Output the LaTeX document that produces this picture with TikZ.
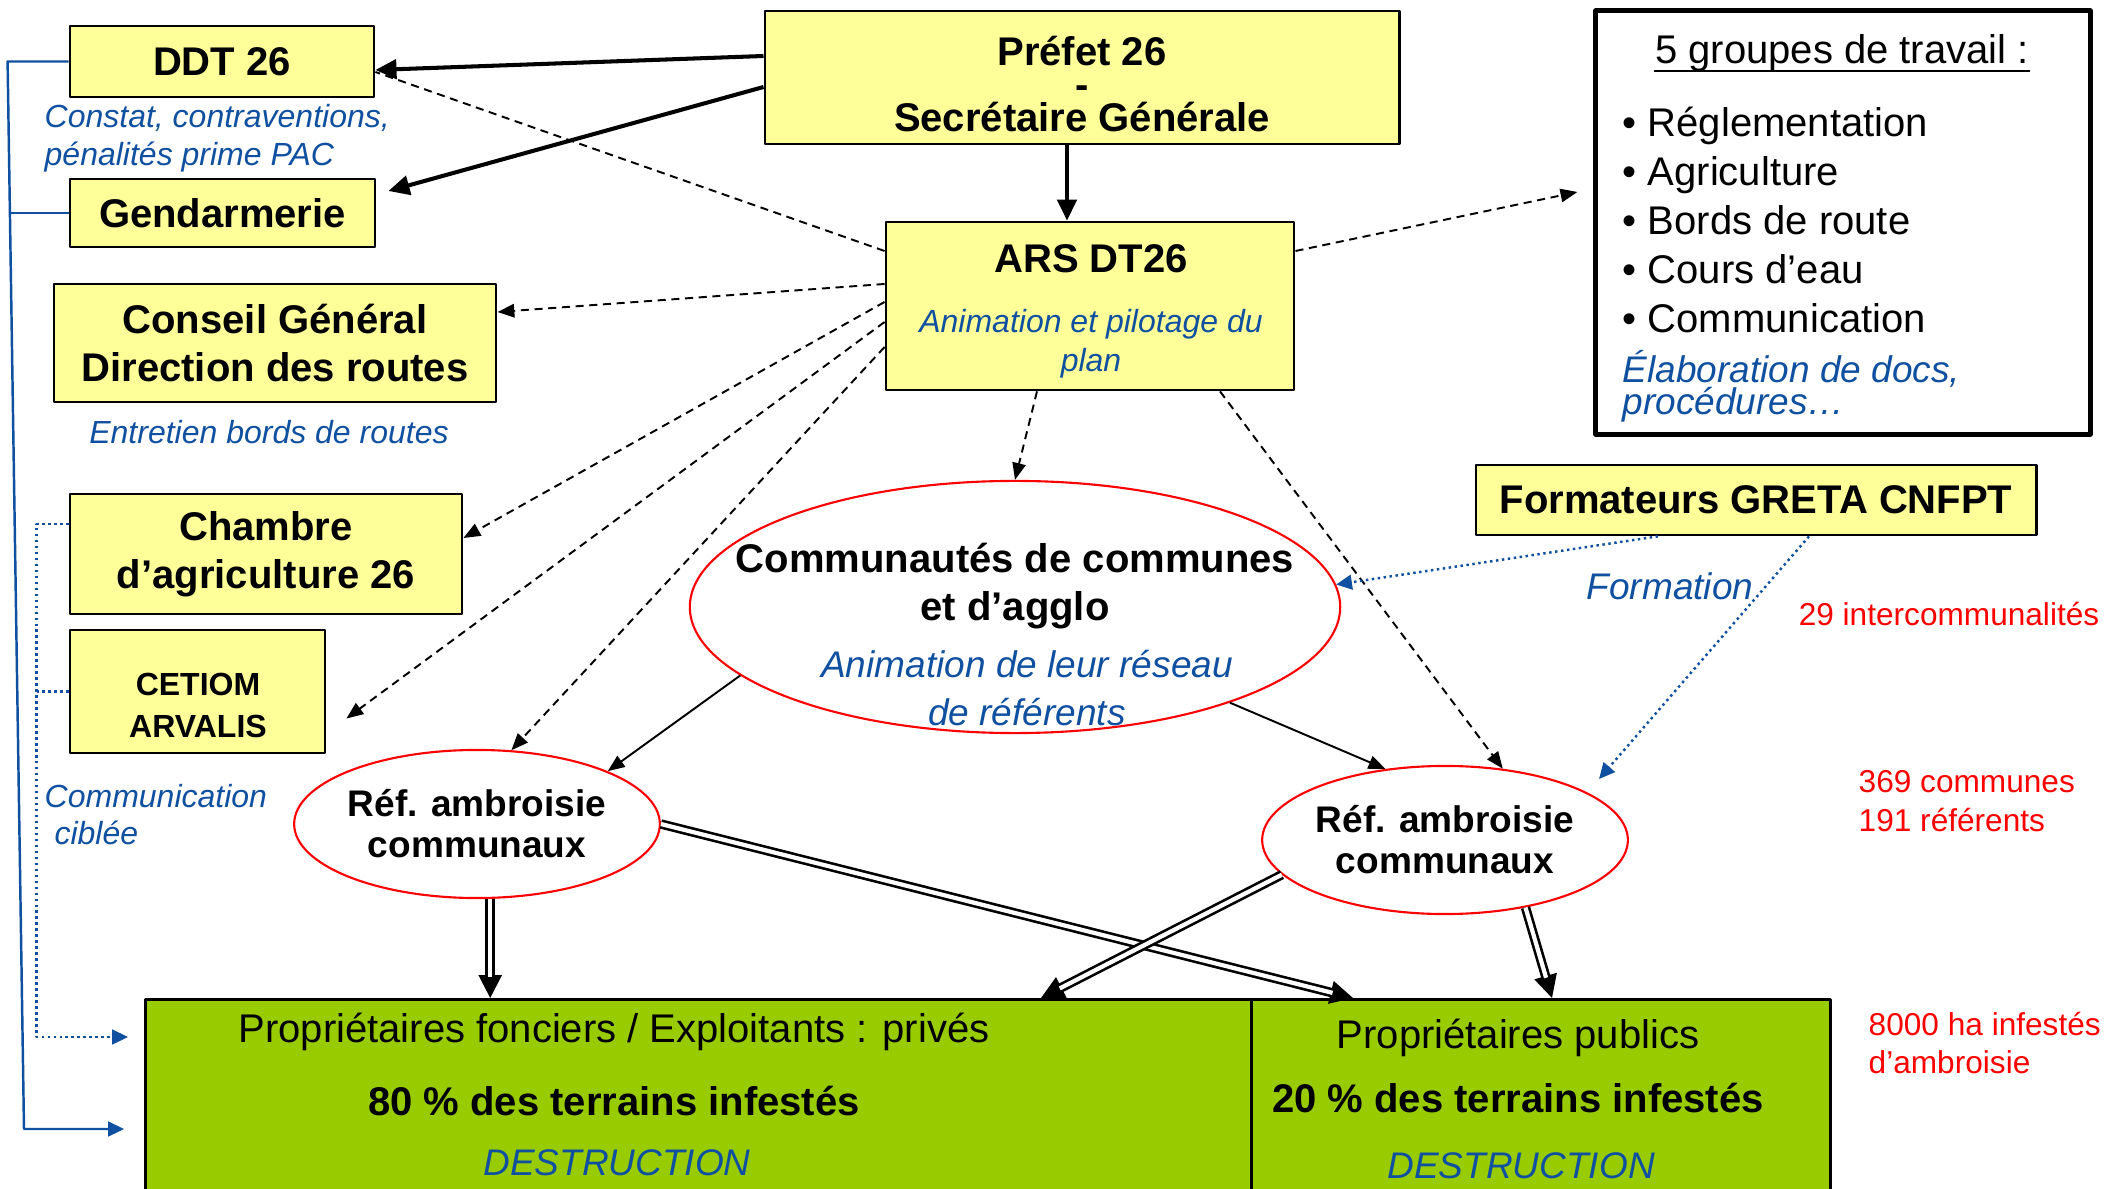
\documentclass[tikz,border=0pt]{standalone}
\usepackage{fontspec}
\setmainfont{Liberation Sans}
\usetikzlibrary{arrows.meta,shapes.geometric,calc}
\definecolor{jaune}{HTML}{FFFF99}
\definecolor{vert}{HTML}{99CC00}
\definecolor{bleu}{HTML}{1050A0}
\newcommand\fs[2]{\fontsize{#1}{#2}\selectfont\lineskiplimit=-20pt\relax}
\begin{document}
\begin{tikzpicture}[x=0.01cm,y=-0.01cm,line join=round,
    boite/.style={draw,fill=jaune,line width=0.75pt,inner sep=0pt,align=center,font=\fs{11.38}{13.5}\bfseries},
    bulle/.style={ellipse,draw=red,line width=0.6pt,inner sep=0pt,align=center,font=\fs{10.53}{11.7}\bfseries},
    titre/.style={inner sep=0pt,align=center,font=\fs{11.38}{13.7}\bfseries},
    note/.style={inner sep=0pt,align=left,text=bleu,font=\fs{9.1}{10.8}\itshape},
    gnote/.style={inner sep=0pt,align=center,text=bleu,font=\fs{10.53}{13.7}\itshape},
    chiffre/.style={inner sep=0pt,align=left,text=red,font=\fs{8.99}{11.1}},
    fort/.style={line width=1.15pt,-{Triangle[length=6pt,width=5.5pt]}},
    tiret/.style={line width=0.55pt,dash pattern=on 2.3pt off 1.6pt,-{Triangle[length=4.8pt,width=3.8pt]}},
    fin/.style={line width=0.55pt,-{Triangle[length=4.8pt,width=3.8pt]}},
    bleupt/.style={draw=bleu,line width=0.7pt,dash pattern=on 0.7pt off 1pt,-{Triangle[length=4.5pt,width=4.2pt]}},
    bleutrait/.style={draw=bleu,line width=0.7pt,-{Triangle[length=4.5pt,width=4.2pt]}},
    dbl/.style={line width=0.75pt,-{Triangle[length=6.5pt,width=6.5pt]},
      postaction={draw,-,double=white,double distance=1.2pt,shorten >=6pt}}]
    \useasboundingbox (0,0) rectangle (2107,1189);
    \clip (0,0) rectangle (2107,1189);
    % boites
    \node[boite,minimum width=3.04cm,minimum height=0.71cm] (ddt) at (222,61.5) {DDT 26};
    \node[boite,minimum width=3.05cm,minimum height=0.68cm] (gend) at (222.5,213) {Gendarmerie};
    \node[boite,minimum width=6.34cm,minimum height=1.33cm] (prefet) at (1082,77.5) {};
    \node[boite,minimum width=4.08cm,minimum height=1.68cm] (ars) at (1090,306) {};
    \node[boite,minimum width=4.42cm,minimum height=1.18cm] (cg) at (275,343) {Conseil Général\\Direction des routes};
    \node[boite,minimum width=3.92cm,minimum height=1.2cm,font=\fs{11.38}{13.7}\bfseries] (chambre) at (266,554) {Chambre\\d’agriculture 26};
    \node[boite,minimum width=2.55cm,minimum height=1.23cm] (cetiom) at (197.5,691.5) {};
    \node[boite,minimum width=5.6cm,minimum height=0.7cm] (greta) at (1756,500) {Formateurs GRETA CNFPT};
    \node[draw,line width=1.4pt,inner sep=0pt,minimum width=4.94cm,minimum height=4.23cm] (groupes) at (1843,222.5) {};
    \node[draw,fill=vert,line width=0.75pt,inner sep=0pt,minimum width=11.06cm,minimum height=2.2cm,anchor=north west] (privL) at (144,998) {};
    \node[draw,fill=vert,line width=0.75pt,inner sep=0pt,minimum width=5.79cm,minimum height=2.2cm,anchor=north west] (privR) at (1250,998) {};
    % bulles
    \node[bulle,minimum width=6.5cm,minimum height=2.52cm] (comm) at (1015,607) {};
    \node[bulle,minimum width=3.62cm,minimum height=1.48cm] (refL) at (477,824) {Réf. ambroisie\\communaux};
    \node[bulle,minimum width=3.62cm,minimum height=1.48cm] (refR) at (1445,840) {Réf. ambroisie\\communaux};
    % textes
    \node[titre,font=\fs{11.38}{9.4}\bfseries] (prefetT) at (1082,84) {Préfet 26\\-\\Secrétaire Générale};
    \node[titre,anchor=base] (arsT) at (1091,273) {ARS DT26};
    \node[note,align=center,font=\fs{9.1}{11.1}\itshape] (arsN) at (1091,343.5) {Animation et pilotage du\\plan};
    \node[titre] (commT) at (1015,586) {Communautés de communes\\et d’agglo};
    \node[gnote] (commN) at (1027,688) {Animation de leur réseau\\de référents};
    \node[note,anchor=west] (ddtN) at (44,138) {Constat, contraventions,\\pénalités prime PAC};
    \node[note,anchor=base] (cgN) at (269,444) {Entretien bords de routes};
    \node[titre,font=\fs{9.1}{12.2}\bfseries] (cetiomT) at (198,705.5) {CETIOM\\ARVALIS};
    \node[note,anchor=west,font=\fs{9.1}{10.5}\itshape] (comN) at (44,815) {Communication\\\hspace*{2.8pt}ciblée};
    \node[inner sep=0pt,anchor=base,font=\fs{11.38}{13}] (gtT) at (1842,64) {5 groupes de travail :};
    \draw[line width=0.55pt] ([yshift=-2pt]gtT.base west) -- ([yshift=-2pt]gtT.base east);
    \node[inner sep=0pt,align=left,anchor=west,font=\fs{11.38}{13.9}] (gtL) at (1622,220) {• Réglementation\\• Agriculture\\• Bords de route\\• Cours d’eau\\• Communication};
    \node[gnote,align=left,anchor=west,font=\fs{10.53}{9.1}\itshape] (gtN) at (1622,386.5) {Élaboration de docs,\\procédures…};
    \node[gnote,anchor=base] (formN) at (1670,600) {Formation};
    \node[chiffre,anchor=base] (nb1) at (1949,626) {29 intercommunalités};
    \node[chiffre,anchor=west] (nb2) at (1858,801) {369 communes\\191 référents};
    \node[chiffre,anchor=west,font=\fs{8.99}{10.8}] (nb3) at (1868,1043) {8000 ha infestés\\d’ambroisie};
    \node[inner sep=0pt,anchor=base,font=\fs{11.38}{13}] (pL1) at (614,1042) {Propriétaires fonciers / Exploitants : privés};
    \node[titre,anchor=base] (pL2) at (614,1115) {80 \% des terrains infestés};
    \node[gnote,anchor=base] (pL3) at (617,1175) {DESTRUCTION};
    \node[inner sep=0pt,anchor=base,font=\fs{11.38}{13}] (pR1) at (1518,1048) {Propriétaires publics};
    \node[titre,anchor=base] (pR2) at (1518,1112) {20 \% des terrains infestés};
    \node[gnote,anchor=base] (pR3) at (1521,1178) {DESTRUCTION};
    % fleches du prefet
    \draw[fort] (prefet.west |- 0,56) -- (ddt.east |- 0,70);
    \draw[fort] (prefet.west |- 0,87) -- ($(gend.east)+(12,-22)$);
    \draw[fort] (1067,0 |- prefet.south) -- (1067,0 |- ars.north);
    % ARS
    \draw[tiret,-] (ars.west |- 0,251) -- (ddt.east |- 0,72);
    \draw[tiret] (ars.west |- 0,284) -- (cg.east |- 0,312);
    \draw[tiret] (ars.west |- 0,302) -- (chambre.east |- 0,538);
    \draw[tiret] (ars.west |- 0,322) -- ($(cetiom.east)+(20,27)$);
    \draw[tiret] (ars.west |- 0,347) -- (refL.65);
    \draw[tiret] (ars.east |- 0,251) -- ($(groupes.west |- 0,192)+(-16,0)$);
    \draw[tiret] (1037,0 |- ars.south) -- (comm.north);
    \draw[tiret] (1220,0 |- ars.south) -- (refR.51);
    % formation
    \draw[bleupt] (1658,0 |- greta.south) -- (comm.4);
    \draw[bleupt] (1809,0 |- greta.south) -- ($(refR.center)+(154,-61)$);
    \draw[fin] (comm.194) -- (refL.22);
    \draw[fin] (comm.-24) -- (refR.130);
    % vers les proprietaires
    \draw[dbl] (refL.-80) -- (refL.-80 |- privL.north);
    \draw[dbl] (refL.east) -- (1353,0 |- privR.north);
    \draw[dbl] (refR.192) -- (1041,0 |- privL.north);
    \draw[dbl] (refR.-40) -- (1552,0 |- privR.north);
    % liens bleus a gauche
    \coordinate (inA) at ($(privL.west |- 0,1129)+(-20,0)$);
    \coordinate (inB) at ($(privL.west |- 0,1037)+(-16,0)$);
    \draw[bleutrait] (ddt.west) -- ++(-61,0) -- (24,0 |- inA) -- (inA);
    \draw[bleutrait,-] (gend.west) -- ++(-59,0);
    \draw[bleupt] (chambre.west |- 0,524) -- ++(-32,0) |- (inB);
    \draw[bleupt,-] (cetiom.west) -- ++(-32,0);
\end{tikzpicture}
\end{document}
